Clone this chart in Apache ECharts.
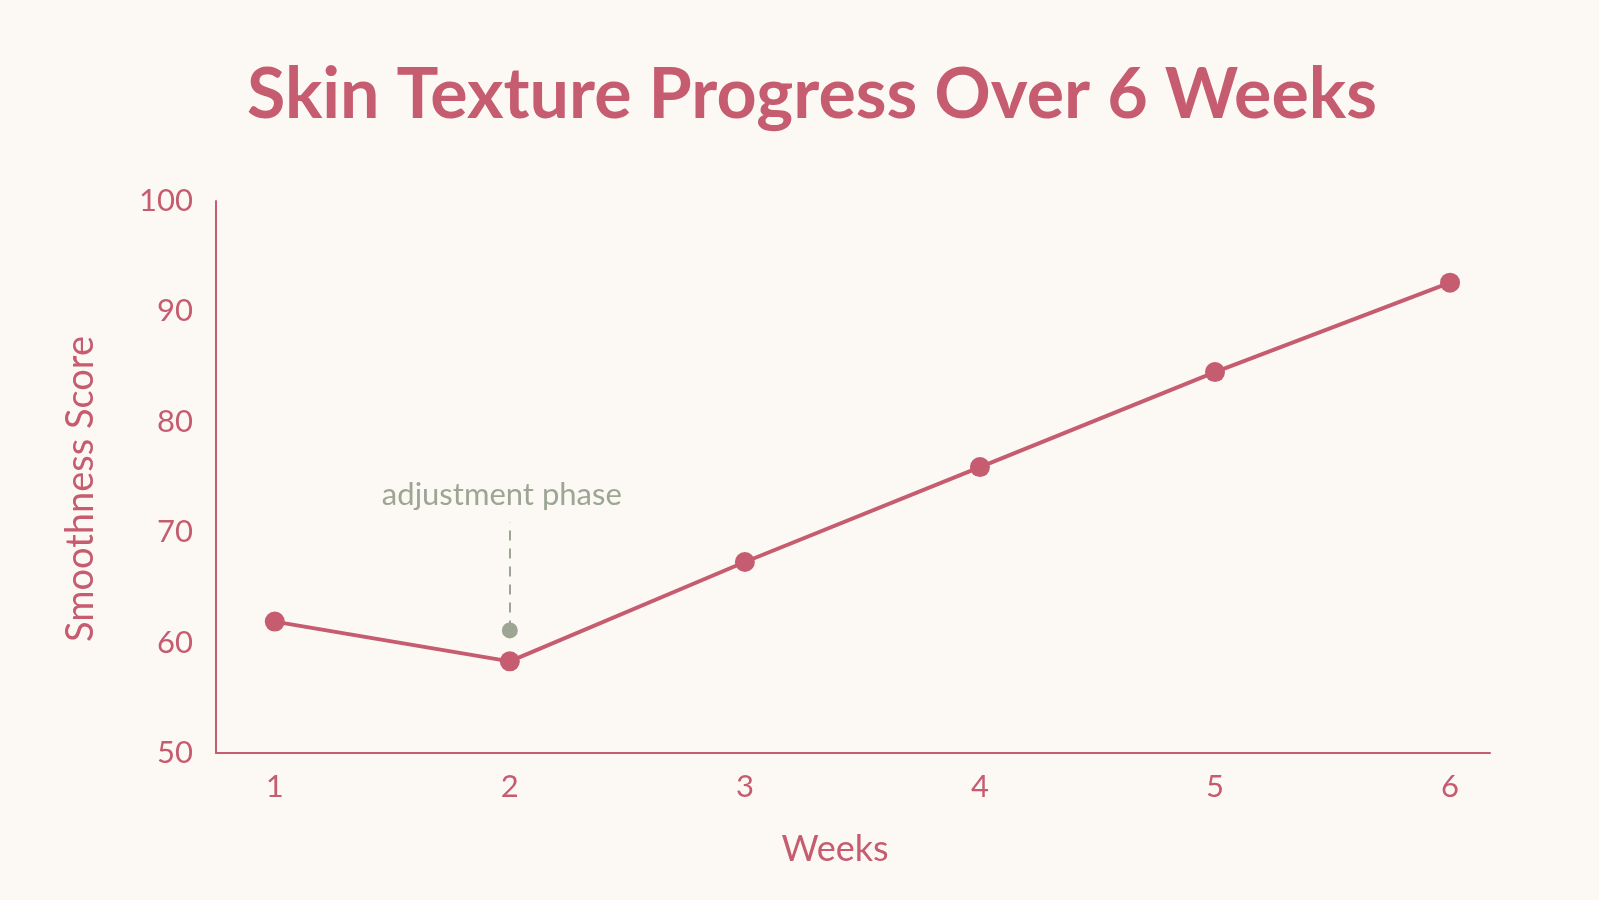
<!DOCTYPE html>
<html>
<head>
<meta charset="utf-8">
<script src="https://cdn.jsdelivr.net/npm/echarts@6/dist/echarts.min.js"></script>
<style>
html,body{margin:0;padding:0;background:#FCF9F4;}
#chart{width:1599px;height:900px;}
</style>
</head>
<body>
<div id="chart"></div>
<script>
var weeks = [1, 2, 3, 4, 5, 6];
var smoothness = [61.9, 58.3, 67.3, 75.9, 84.5, 92.6];
var yTicks = [50, 60, 70, 80, 90, 100];
var annotationWeek = 2;
var annotationFrom = 61.1;
var annotationTo = 70.9;
var annotationText = 'adjustment phase';

var MAIN = '#C65C6F';
var GRAY = '#9DA594';
var FONT = 'Lato';

var chart = echarts.init(document.getElementById('chart'));
chart.setOption({
  backgroundColor: '#FCF9F4',
  animation: false,
  title: {
    text: 'Skin Texture Progress Over 6 Weeks',
    left: 807, top: 55, textAlign: 'center',
    textStyle: {fontFamily: FONT, fontWeight: 'bold', fontSize: 70, color: MAIN}
  },
  grid: {left: 216, right: 109, top: 201, bottom: 147},
  xAxis: {
    type: 'value', min: 0.75, max: 6.17,
    name: 'Weeks', nameLocation: 'middle', nameGap: 78,
    nameTextStyle: {fontFamily: FONT, fontSize: 36, color: MAIN, padding: [0, 36, 0, 0]},
    axisLine: {show: true, lineStyle: {color: MAIN, width: 2}},
    axisTick: {show: false},
    splitLine: {show: false},
    axisLabel: {customValues: weeks, fontFamily: FONT, fontSize: 31, color: MAIN, margin: 18}
  },
  yAxis: {
    type: 'value', min: 50, max: 100, interval: 10,
    name: 'Smoothness Score', nameLocation: 'middle', nameGap: 116,
    nameTextStyle: {fontFamily: FONT, fontSize: 38, color: MAIN, padding: [0, 24, 0, 0]},
    axisLine: {show: true, lineStyle: {color: MAIN, width: 2}},
    axisTick: {show: false},
    splitLine: {show: false},
    axisLabel: {customValues: yTicks, fontFamily: FONT, fontSize: 31, color: MAIN, margin: 23}
  },
  series: [{
    type: 'line',
    data: weeks.map(function (w, i) { return [w, smoothness[i]]; }),
    symbol: 'circle', symbolSize: 20,
    lineStyle: {color: MAIN, width: 4},
    itemStyle: {color: MAIN},
    z: 3,
    markLine: {
      silent: true,
      symbol: ['circle', 'none'], symbolSize: 16,
      lineStyle: {color: GRAY, type: [10, 8], width: 2},
      itemStyle: {color: GRAY},
      label: {show: true, position: 'end', formatter: annotationText, fontFamily: FONT, fontSize: 31, color: GRAY, distance: 12, padding: [0, 16, 0, 0]},
      data: [[{coord: [annotationWeek, annotationFrom]}, {coord: [annotationWeek, annotationTo]}]]
    }
  }]
});
</script>
</body>
</html>
